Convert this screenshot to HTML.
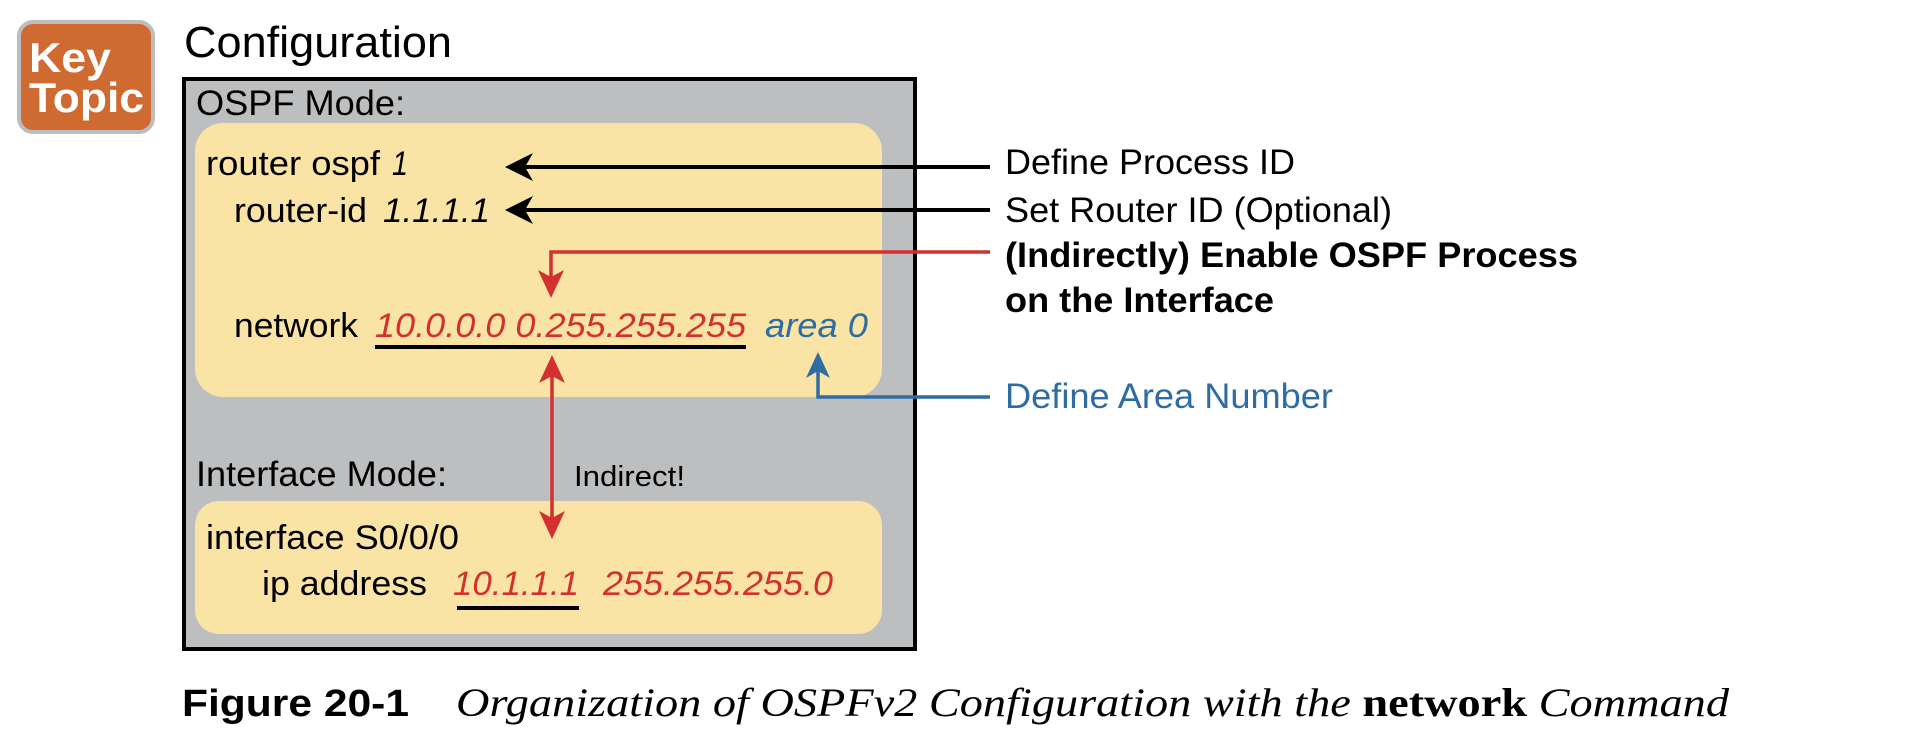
<!DOCTYPE html>
<html><head><meta charset="utf-8"><style>
html,body{margin:0;padding:0;background:#fff;}
svg{display:block;}
</style></head><body>
<svg width="1922" height="746" viewBox="0 0 1922 746" xmlns="http://www.w3.org/2000/svg" font-family="Liberation Sans, sans-serif">
<!-- Key Topic badge -->
<rect x="19" y="22" width="134" height="110" rx="14" fill="#CF6A30" stroke="#BDBDBD" stroke-width="4"/>
<text x="29" y="72" font-size="42" font-weight="bold" fill="#fff" textLength="82" lengthAdjust="spacingAndGlyphs">Key</text>
<text x="29" y="112" font-size="42" font-weight="bold" fill="#fff" textLength="115" lengthAdjust="spacingAndGlyphs">Topic</text>
<text x="184" y="57" font-size="44" textLength="268" lengthAdjust="spacingAndGlyphs">Configuration</text>
<!-- outer box -->
<rect x="184" y="79" width="731" height="570" fill="#BDBEC0" stroke="#000" stroke-width="4"/>
<text x="196" y="115" font-size="35" textLength="209" lengthAdjust="spacingAndGlyphs">OSPF Mode:</text>
<rect x="195" y="123" width="687" height="274" rx="28" fill="#F9E3A5"/>
<text x="206" y="175" font-size="34" textLength="174" lengthAdjust="spacingAndGlyphs">router ospf</text>
<text x="392" y="175" font-size="34" font-style="italic" textLength="16" lengthAdjust="spacingAndGlyphs">1</text>
<text x="234" y="222" font-size="34" textLength="133" lengthAdjust="spacingAndGlyphs">router-id</text>
<text x="383" y="222" font-size="34" font-style="italic" textLength="107" lengthAdjust="spacingAndGlyphs">1.1.1.1</text>
<text x="234" y="337" font-size="34" textLength="124" lengthAdjust="spacingAndGlyphs">network</text>
<text x="375" y="337" font-size="34" font-style="italic" fill="#D3302F" textLength="371" lengthAdjust="spacingAndGlyphs">10.0.0.0 0.255.255.255</text>
<text x="765" y="337" font-size="34" font-style="italic" fill="#2E6DA4" textLength="103" lengthAdjust="spacingAndGlyphs">area 0</text>
<rect x="375" y="345" width="371" height="4" fill="#000"/>
<text x="196" y="486" font-size="35" textLength="251" lengthAdjust="spacingAndGlyphs">Interface Mode:</text>
<text x="574" y="486" font-size="29" textLength="111" lengthAdjust="spacingAndGlyphs">Indirect!</text>
<rect x="195" y="501" width="687" height="133" rx="24" fill="#F9E3A5"/>
<text x="206" y="549" font-size="34" textLength="253" lengthAdjust="spacingAndGlyphs">interface S0/0/0</text>
<text x="262" y="595" font-size="34" textLength="165" lengthAdjust="spacingAndGlyphs">ip address</text>
<text x="453" y="595" font-size="34" font-style="italic" fill="#D3302F" textLength="126" lengthAdjust="spacingAndGlyphs">10.1.1.1</text>
<text x="603" y="595" font-size="34" font-style="italic" fill="#D3302F" textLength="230" lengthAdjust="spacingAndGlyphs">255.255.255.0</text>
<rect x="457" y="606" width="122" height="4" fill="#000"/>
<!-- black arrows -->
<line x1="990" y1="167" x2="520" y2="167" stroke="#000" stroke-width="4"/>
<path d="M505,167 L533,153 L525,167 L533,181 z" fill="#000"/>
<line x1="990" y1="210" x2="520" y2="210" stroke="#000" stroke-width="4"/>
<path d="M505,210 L533,196 L525,210 L533,224 z" fill="#000"/>
<!-- red connector -->
<polyline points="990,252 551,252 551,285" fill="none" stroke="#D3302F" stroke-width="3.5"/>
<path d="M551,298 L538,270 L551,277 L564,270 z" fill="#D3302F"/>
<!-- red double arrow -->
<line x1="552" y1="368" x2="552" y2="526" stroke="#D3302F" stroke-width="3.5"/>
<path d="M552,355 L539,383 L552,376 L565,383 z" fill="#D3302F"/>
<path d="M552,539 L539,511 L552,518 L565,511 z" fill="#D3302F"/>
<!-- blue connector -->
<polyline points="990,397 818,397 818,365" fill="none" stroke="#2E6DA4" stroke-width="3.5"/>
<path d="M818,352 L806,378 L818,371 L830,378 z" fill="#2E6DA4"/>
<!-- right labels -->
<text x="1005" y="174" font-size="35" textLength="290" lengthAdjust="spacingAndGlyphs">Define Process ID</text>
<text x="1005" y="222" font-size="35" textLength="387" lengthAdjust="spacingAndGlyphs">Set Router ID (Optional)</text>
<text x="1005" y="267" font-size="35" font-weight="bold" textLength="573" lengthAdjust="spacingAndGlyphs">(Indirectly) Enable OSPF Process</text>
<text x="1005" y="312" font-size="35" font-weight="bold" textLength="269" lengthAdjust="spacingAndGlyphs">on the Interface</text>
<text x="1005" y="408" font-size="35" fill="#2E6DA4" textLength="328" lengthAdjust="spacingAndGlyphs">Define Area Number</text>
<!-- caption -->
<text x="182" y="716" font-size="38" font-weight="bold" textLength="227" lengthAdjust="spacingAndGlyphs">Figure 20-1</text>
<text x="456" y="716" style="font-family:'Liberation Serif',serif" font-size="40" textLength="1273" lengthAdjust="spacingAndGlyphs"><tspan font-style="italic">Organization of OSPFv2 Configuration with the </tspan><tspan font-weight="bold">network</tspan><tspan font-style="italic"> Command</tspan></text>
</svg>
</body></html>
